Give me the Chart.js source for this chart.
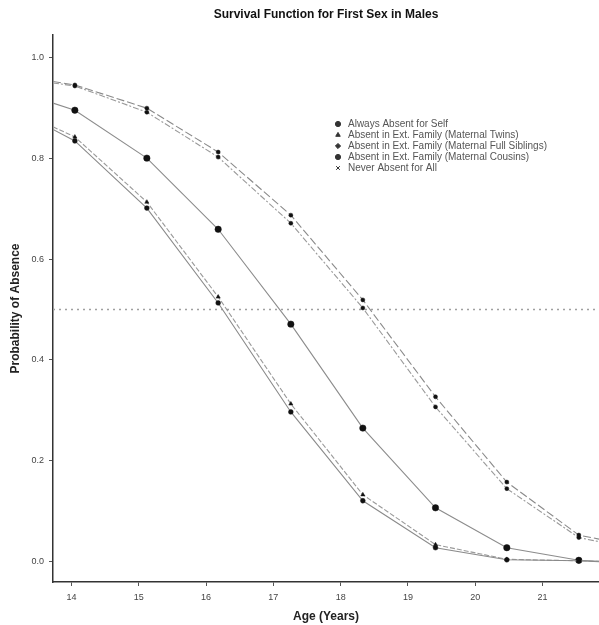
<!DOCTYPE html>
<html>
<head>
<meta charset="utf-8">
<script src="https://cdn.jsdelivr.net/npm/chart.js@4/dist/chart.umd.min.js"></script>
<style>
  html, body { margin: 0; padding: 0; background: #fff; }
</style>
</head>
<body>
<canvas id="chart" width="599" height="625"></canvas>
<script>
// marker ages as they sit on the age axis; first and last entries are where the curves meet the frame
const ages = [13.725, 14.05, 15.12, 16.18, 17.26, 18.33, 19.41, 20.47, 21.54, 21.84];

const seriesNames = [
    "Always Absent for Self",
    "Absent in Ext. Family (Maternal Twins)",
    "Absent in Ext. Family (Maternal Full Siblings)",
    "Absent in Ext. Family (Maternal Cousins)",
    "Never Absent for All"
];

const alwaysAbsentSelf   = [0.857, 0.834, 0.701, 0.513, 0.297, 0.121, 0.028, 0.004, 0.002, 0.000];
const maternalTwins      = [0.862, 0.842, 0.713, 0.525, 0.313, 0.133, 0.034, 0.005, 0.002, 0.001];
const maternalFullSibs   = [0.909, 0.895, 0.800, 0.659, 0.471, 0.265, 0.107, 0.028, 0.003, 0.001];
const maternalCousins    = [0.949, 0.943, 0.891, 0.802, 0.671, 0.503, 0.307, 0.145, 0.048, 0.040];
const neverAbsentAll     = [0.952, 0.945, 0.899, 0.812, 0.687, 0.519, 0.327, 0.158, 0.053, 0.045];

const xTicks = [14, 15, 16, 17, 18, 19, 20, 21];
const yTicks = [0.0, 0.2, 0.4, 0.6, 0.8, 1.0];
const medianLine = 0.5;

const xMin = 13.725, xMax = 21.84;
const yMin = -0.04, yMax = 1.044;

const lineColors = ["#8a8a8a", "#9a9a9a", "#8c8c8c", "#9a9a9a", "#8a8a8a"];
const lineDash = [[], [5, 2], [], [6, 2, 2, 2], [8, 3]];
const pointStyles = ["circle", "triangle", "circle", "circle", "circle"];
const pointSizes = [2.4, 2.4, 3.2, 2.0, 2.0];
const legendMarkers = ["circle", "triangle", "rectRot", "circle", "crossRot"];

const allSeries = [alwaysAbsentSelf, maternalTwins, maternalFullSibs, maternalCousins, neverAbsentAll];

const datasets = allSeries.map((vals, i) => ({
    label: seriesNames[i],
    data: vals.map((v, j) => ({ x: ages[j], y: v })),
    showLine: true,
    borderColor: lineColors[i],
    borderWidth: 1.1,
    borderDash: lineDash[i],
    pointStyle: pointStyles[i],
    pointRadius: ages.map((a, j) => (j === 0 || j === ages.length - 1) ? 0 : pointSizes[i]),
    pointBackgroundColor: "#111",
    pointBorderColor: "#111",
    pointBorderWidth: 0.5,
    tension: 0
}));

datasets.push({
    label: "median",
    data: [{ x: xMin, y: medianLine }, { x: xMax, y: medianLine }],
    showLine: true,
    borderColor: "#a0a0a0",
    borderWidth: 1.6,
    borderDash: [2, 4],
    pointRadius: 0
});

const insideLegend = {
    id: "insideLegend",
    afterDraw(chart) {
        const ctx = chart.ctx;
        const area = chart.chartArea;
        ctx.save();
        ctx.font = '10px "Liberation Sans", Arial, sans-serif';
        ctx.textBaseline = "middle";
        seriesNames.forEach((name, i) => {
            const y = area.top + 89 + i * 11;
            const x = area.left + 285;
            ctx.fillStyle = "#333";
            ctx.strokeStyle = "#333";
            Chart.helpers.drawPoint(ctx, { pointStyle: legendMarkers[i], radius: 2.6, rotation: 0, borderWidth: 1 }, x, y);
            ctx.fillStyle = "#555";
            ctx.fillText(name, x + 10, y);
        });
        ctx.restore();
    }
};

const chartElement = document.querySelector("#chart");
const ctx = chartElement.getContext("2d");

const myChart = new Chart(ctx, {
    type: "scatter",
    data: { datasets },
    options: {
        responsive: false,
        animation: false,
        layout: { padding: 0 },
        plugins: {
            legend: { display: false },
            tooltip: { enabled: false },
            title: {
                display: true,
                text: "Survival Function for First Sex in Males",
                fullSize: false,
                color: "#111",
                font: { family: '"Liberation Sans", Arial, sans-serif', size: 12, weight: "bold" },
                padding: { top: 7, bottom: 13.6 }
            }
        },
        scales: {
            x: {
                type: "linear",
                min: xMin,
                max: xMax,
                afterBuildTicks: scale => { scale.ticks = xTicks.map(v => ({ value: v })); },
                afterFit: scale => { scale.height = 43; },
                grid: { drawOnChartArea: false, tickLength: 4, color: "#555" },
                border: { color: "#333", width: 1.5 },
                ticks: {
                    color: "#444",
                    padding: 6,
                    maxRotation: 0,
                    font: { family: '"Liberation Sans", Arial, sans-serif', size: 9 },
                    callback: v => String(v)
                },
                title: {
                    display: true,
                    text: "Age (Years)",
                    color: "#222",
                    font: { family: '"Liberation Sans", Arial, sans-serif', size: 12, weight: "bold" },
                    padding: { top: 0, bottom: 1 }
                }
            },
            y: {
                type: "linear",
                min: yMin,
                max: yMax,
                afterBuildTicks: scale => { scale.ticks = yTicks.map(v => ({ value: v })); },
                afterFit: scale => { scale.width = 53; },
                grid: { drawOnChartArea: false, tickLength: 4, color: "#555" },
                border: { color: "#333", width: 1.5 },
                ticks: {
                    color: "#444",
                    padding: 5,
                    font: { family: '"Liberation Sans", Arial, sans-serif', size: 9 },
                    callback: v => v.toFixed(1)
                },
                title: {
                    display: true,
                    text: "Probability of Absence",
                    color: "#222",
                    font: { family: '"Liberation Sans", Arial, sans-serif', size: 12, weight: "bold" },
                    padding: { top: 8, bottom: 0 }
                }
            }
        }
    },
    plugins: [insideLegend]
});
</script>
</body>
</html>
